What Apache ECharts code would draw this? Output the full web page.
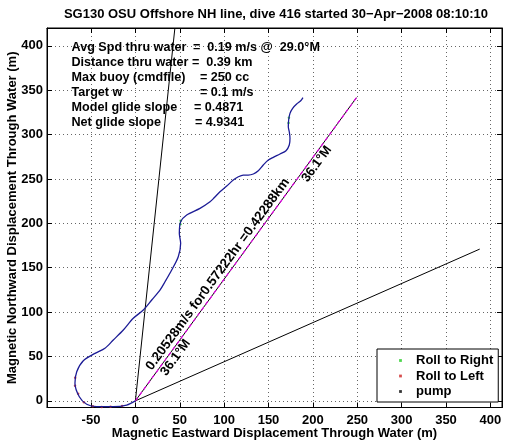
<!DOCTYPE html>
<html><head><meta charset="utf-8">
<script src="https://cdn.jsdelivr.net/npm/echarts@6/dist/echarts.min.js"></script>
<style>html,body{margin:0;padding:0;background:#fff}#c{width:514px;height:442px}</style>
</head><body><div id="c"></div>
<script>
// ---- data ----
const titleText = 'SG130 OSU Offshore NH line, dive 416 started 30\u2212Apr\u22122008 08:10:10';
const xName = 'Magnetic Eastward Displacement Through Water (m)';
const yName = 'Magnetic Northward Displacement Through Water (m)';
const xTicks = [-50, 0, 50, 100, 150, 200, 250, 300, 350, 400];
const yTicks = [0, 50, 100, 150, 200, 250, 300, 350, 400];

const trackX = [0, -9.8, -24.9, -43.6, -54.9, -63.2, -68.1, -66.1, -58.7, -45.5, -34.3, -24.9, -13.6, -2.4, 8.9, 18.4, 27.7, 33.4, 40.9, 48.3, 51, 49.5, 51, 57.8, 72.8, 84.1, 88.5, 95.3, 102.9, 110.3, 116, 121.6, 127.2, 132.9, 138.5, 144.1, 149.8, 155.4, 162.9, 169.7, 173.4, 174.2, 173.4, 172.3, 172.7, 174.2, 177.2, 181.7, 186.3, 188.8];
const trackY = [0, -4.7, -6.5, -6.5, -3.9, 4.6, 19.7, 32.8, 45.2, 53.5, 59.2, 68.5, 79.8, 93, 102.3, 113.6, 124.8, 134.2, 147.4, 162.4, 177.5, 188.7, 201.8, 209.4, 216.9, 224.3, 228.5, 235.6, 242, 248.8, 252.5, 254.4, 254.4, 255.6, 259.3, 265.7, 271.3, 274.4, 278.1, 281.8, 288.2, 295.8, 303.2, 308.8, 316.4, 323.9, 329.6, 334.4, 338.1, 341.7];

const rollRightX = [50.7, 51.0, 172.6, 173.0];
const rollRightY = [199, 203, 313, 319];
const rollLeftX = [-15, -28, -38, -48, -58, -64.5, -68, -67.8];
const rollLeftY = [-5.8, -6.6, -6.8, -6, -1.5, 8, 17, 26];
const pumpX = [];
const pumpY = [];

const lineAX = [0, 44.5], lineAY = [0, 420];
const lineBX = [0, 388], lineBY = [0, 171];
const netX = [0, 249.1], netY = [0, 341.6];

const speedMs = 0.20528, hoursHr = 0.57222, distKm = 0.42288, headingTxt = '36.1\u00b0M';
const infoLabels = ['Avg Spd thru water', 'Distance thru water', 'Max buoy (cmdfile)', 'Target w', 'Model glide slope', 'Net glide slope'];
const infoValues = ['=  0.19 m/s @  29.0\u00b0M', '=  0.39 km', '= 250 cc', '= 0.1 m/s', '= 0.4871', '= 4.9341'];
const infoValueX = [193, 192, 200, 200, 194, 195];

// ---- chart ----
const zip = (a, b) => a.map((v, i) => [v, b[i]]);
const FONT = 'Liberation Sans, Arial, Helvetica, sans-serif';
const txt = {color: '#000', fontWeight: 'bold', fontSize: 13, fontFamily: FONT};
const X0 = -99.6, X1 = 413.1, Y0 = -7.5, Y1 = 420.1;
const dotIcon = 'path://M0,0M14,14M5.5,5.5h3v3h-3z';

const chart = echarts.init(document.getElementById('c'), null, {renderer: 'canvas'});
const gridLine = {show: true, lineStyle: {color: '#666', type: [1, 3], width: 1}};
const option = {
  animation: false,
  backgroundColor: '#fff',
  title: {text: titleText, left: 271, top: 3, textAlign: 'center', textStyle: txt},
  grid: {left: 47, top: 28, width: 455, height: 379.5, outerBoundsMode: 'none', containLabel: false,
    show: true, borderColor: '#000', borderWidth: 1},
  legend: {
    orient: 'vertical', left: 377, top: 349, padding: [5, 5, 4, 17],
    itemWidth: 21, itemHeight: 13, itemGap: 2.5,
    backgroundColor: '#fff', borderColor: '#000', borderWidth: 1,
    textStyle: txt,
    data: [
      {name: 'Roll to Right', icon: dotIcon},
      {name: 'Roll to Left', icon: dotIcon},
      {name: 'pump', icon: dotIcon}
    ]
  },
  xAxis: [{
    type: 'value', min: X0, max: X1, position: 'bottom',
    axisLine: {show: true, onZero: false, lineStyle: {color: '#000'}},
    axisTick: {show: true, inside: true, length: 5, customValues: xTicks, lineStyle: {color: '#000'}},
    axisLabel: {customValues: xTicks, margin: 6, ...txt},
    splitLine: gridLine,
    name: xName, nameLocation: 'middle', nameGap: 19, nameMoveOverlap: false, nameTextStyle: txt
  }, {
    type: 'value', min: X0, max: X1, position: 'top',
    axisLine: {show: true, onZero: false, lineStyle: {color: '#000'}},
    axisTick: {show: true, inside: true, length: 5, customValues: xTicks, lineStyle: {color: '#000'}},
    axisLabel: {show: false}, splitLine: {show: false}
  }],
  yAxis: [{
    type: 'value', min: Y0, max: Y1, position: 'left',
    axisLine: {show: true, onZero: false, lineStyle: {color: '#000'}},
    axisTick: {show: true, inside: true, length: 5, customValues: yTicks, lineStyle: {color: '#000'}},
    axisLabel: {customValues: yTicks, margin: 4, ...txt},
    splitLine: gridLine,
    name: yName, nameLocation: 'middle', nameGap: 28, nameRotate: 90, nameMoveOverlap: false, nameTextStyle: txt
  }, {
    type: 'value', min: Y0, max: Y1, position: 'right',
    axisLine: {show: true, onZero: false, lineStyle: {color: '#000'}},
    axisTick: {show: true, inside: true, length: 5, customValues: yTicks, lineStyle: {color: '#000'}},
    axisLabel: {show: false}, splitLine: {show: false}
  }],
  series: [
    {type: 'line', name: 'refA', data: zip(lineAX, lineAY), showSymbol: false, lineStyle: {color: '#000', width: 1}, silent: true},
    {type: 'line', name: 'refB', data: zip(lineBX, lineBY), showSymbol: false, lineStyle: {color: '#000', width: 1}, silent: true},
    {type: 'line', name: 'net', data: zip(netX, netY), showSymbol: false, lineStyle: {color: '#000', width: 1}, silent: true},
    {type: 'line', name: 'netm', data: zip(netX, netY), showSymbol: false, lineStyle: {color: '#e000e0', width: 1.2, type: [4, 3]}, silent: true},
    {type: 'line', name: 'track', data: zip(trackX, trackY), showSymbol: false, smooth: 0.3, lineStyle: {color: '#1c1c96', width: 1.3}, silent: true},
    {type: 'scatter', name: 'Roll to Right', data: zip(rollRightX, rollRightY), symbolSize: 2.5, itemStyle: {color: '#22cc22'}},
    {type: 'scatter', name: 'Roll to Left', data: zip(rollLeftX, rollLeftY), symbolSize: 2.5, itemStyle: {color: '#cc2222'}},
    {type: 'scatter', name: 'pump', data: zip(pumpX, pumpY), symbolSize: 2.5, itemStyle: {color: '#000'}}
  ]
};
chart.setOption(option);

// annotations placed relative to data coordinates
const p0 = chart.convertToPixel({xAxisIndex: 0, yAxisIndex: 0}, [netX[0], netY[0]]);
const p1 = chart.convertToPixel({xAxisIndex: 0, yAxisIndex: 0}, [netX[1], netY[1]]);
const dx = p1[0] - p0[0], dy = p1[1] - p0[1];
const L = Math.hypot(dx, dy);
const u = [dx / L, dy / L];
const n = [u[1], -u[0]]; // upper-left normal
const rot = Math.atan2(-dy, dx);
const pxPerM = L / Math.hypot(netX[1] - netX[0], netY[1] - netY[0]);
function at(alongM, off) {
  const s = alongM * pxPerM;
  return [p0[0] + u[0] * s + n[0] * off, p0[1] + u[1] * s + n[1] * off];
}
const gfx = [];
const a1 = at(38, 1.5);
gfx.push({type: 'text', x: a1[0], y: a1[1], rotation: rot, silent: true,
  style: {text: speedMs + 'm/s for' + hoursHr + 'hr =' + distKm + 'km', align: 'left', verticalAlign: 'bottom', fill: '#000', font: 'bold 13.4px ' + FONT}});
const a2 = at(66, -7);
gfx.push({type: 'text', x: a2[0], y: a2[1], rotation: rot, silent: true,
  style: {text: headingTxt, align: 'center', verticalAlign: 'middle', fill: '#000', font: 'bold 13px ' + FONT}});
const a3 = at(336, -7);
gfx.push({type: 'text', x: a3[0], y: a3[1], rotation: rot, silent: true,
  style: {text: headingTxt, align: 'center', verticalAlign: 'middle', fill: '#000', font: 'bold 13px ' + FONT}});
infoLabels.forEach((lab, i) => {
  const y = 47.5 + 15 * i;
  gfx.push({type: 'text', x: 71.5, y: y, silent: true,
    style: {text: lab, align: 'left', verticalAlign: 'middle', fill: '#000', font: 'bold 12.6px ' + FONT}});
  gfx.push({type: 'text', x: infoValueX[i], y: y, silent: true,
    style: {text: infoValues[i], align: 'left', verticalAlign: 'middle', fill: '#000', font: 'bold 12.6px ' + FONT}});
});
chart.setOption({graphic: gfx});
</script>
</body></html>
